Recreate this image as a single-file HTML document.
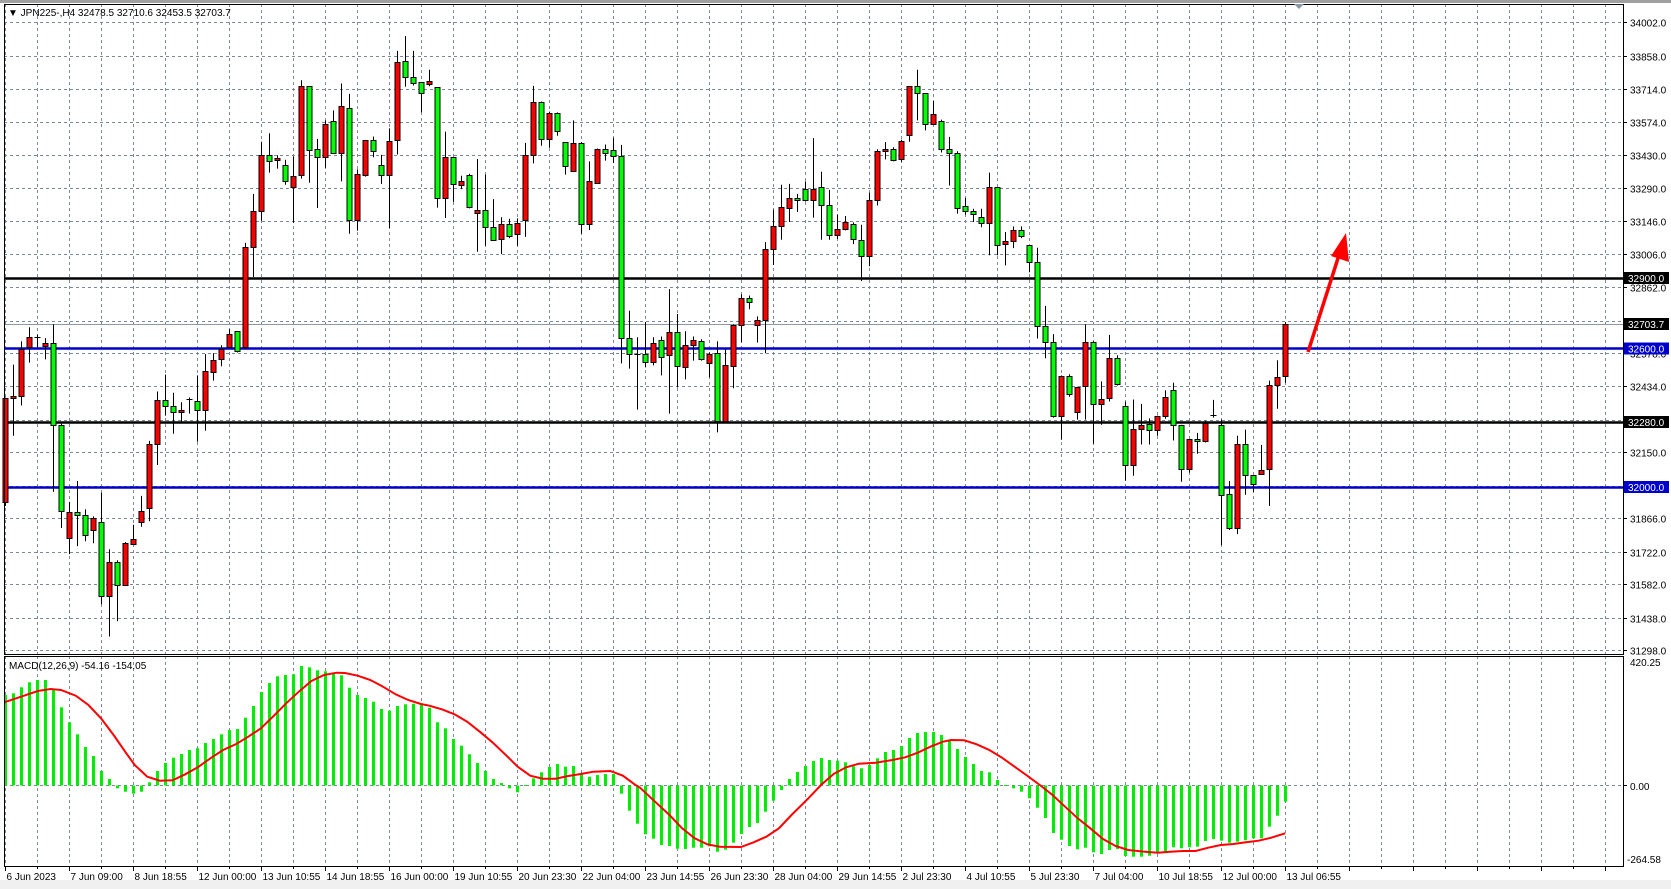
<!DOCTYPE html>
<html><head><meta charset="utf-8">
<style>
html,body{margin:0;padding:0;background:#fff;}
svg{display:block;font-family:"Liberation Sans",sans-serif;}
</style></head>
<body>
<svg id="s" width="1671" height="889" viewBox="0 0 1671 889" xmlns="http://www.w3.org/2000/svg"></svg>
<script>
var S=document.getElementById('s');var out=[];
function P(a){out.push(a);}
P('<rect x="0" y="0" width="1671" height="889" fill="#fff"/>');
P('<rect x="0" y="880" width="1671" height="9" fill="#f0f0f0"/>');
P('<line x1="0" y1="1.5" x2="1671" y2="1.5" stroke="#a0a0a0" stroke-width="3"/>');
var L=4,R=1623,T=4,MB=654,MT=656,B=866;
function py(p){return 22.4+(34002-p)*0.2322;}
for(var k=0;;k++){var x=5.5+32*k;if(x>=R)break;
P('<line x1="'+x+'" y1="'+T+'" x2="'+x+'" y2="'+MB+'" stroke="#7a8899" stroke-dasharray="3,3"/>');
P('<line x1="'+x+'" y1="'+MT+'" x2="'+x+'" y2="'+B+'" stroke="#7a8899" stroke-dasharray="3,3"/>');}
var prices=[34002,33858,33714,33574,33430,33290,33146,33006,32862,32718,32578,32434,32290,32150,32006,31866,31722,31582,31438,31298];
prices.forEach(function(p){var y=Math.round(py(p))+0.5;
P('<line x1="'+L+'" y1="'+y+'" x2="'+R+'" y2="'+y+'" stroke="#7a8899" stroke-dasharray="3,3"/>');
P('<line x1="'+R+'" y1="'+y+'" x2="'+(R+4)+'" y2="'+y+'" stroke="#000"/>');
P('<text x="1630" y="'+(y+4)+'" font-size="10" fill="#000">'+p.toFixed(1)+'</text>');});
P('<line x1="'+L+'" y1="785.5" x2="'+R+'" y2="785.5" stroke="#7a8899" stroke-dasharray="3,3"/>');
P('<line x1="'+L+'" y1="324.5" x2="'+R+'" y2="324.5" stroke="#8a98a8" stroke-width="1"/>');
[[278.5,'#000'],[348.5,'#0000cc'],[422.5,'#000'],[487.5,'#0000cc']].forEach(function(a){
P('<line x1="'+L+'" y1="'+a[0]+'" x2="'+R+'" y2="'+a[0]+'" stroke="'+a[1]+'" stroke-width="2.5"/>');});
var C=[
['r',940,1200,940,1210],['r',937,941,858,1035],['r',820,937,800,960],['r',790,815,765,853],['d',790,790,783,815],['r',805,812,792,845],['g',805,1008,758,1175],['g',1008,1222,1005,1265],['r',1226,1290,1200,1330],['g',1226,1232,1148,1310],
['g',1233,1282,1218,1298],['r',1240,1270,1236,1303],['g',1250,1433,1177,1455],['r',1350,1433,1318,1535],['g',1350,1407,1345,1497],['r',1302,1407,1300,1407],['r',1293,1305,1257,1307],['r',1222,1250,1185,1262],['r',1055,1216,1048,1248],['r',946,1056,925,1108],
['g',946,962,883,985],['g',962,977,928,1030],['r',971,977,952,1000],['d',944,944,940,980],['g',948,972,885,1050],['r',875,972,832,1023],['r',847,877,830,898],['r',818,845,810,862],['r',782,815,770,815],['g',775,825,775,828],
['r',566,813,555,820],['r',476,566,433,640],['r',337,476,303,500],['g',337,350,282,380],['r',344,349,337,370],['g',362,402,348,410],['r',389,417,340,505],['r',165,387,150,395],['g',165,323,165,405],['g',322,340,296,468],
['r',260,340,250,368],['g',252,330,225,333],['r',215,330,158,402],['g',218,497,184,532],['r',384,497,372,525],['r',300,387,300,390],['g',300,327,290,342],['g',362,385,336,408],['r',302,385,270,518],['r',105,300,77,335],
['g',103,143,40,166],['g',143,156,77,163],['g',155,181,155,230],['r',153,160,124,165],['g',168,444,168,467],['r',342,444,278,493],['g',342,409,342,453],['r',402,410,388,421],['g',386,466,383,469],['r',474,481,346,577],
['g',474,516,385,562],['g',516,548,446,548],['r',509,546,491,583],['g',509,539,495,543],['r',506,534,494,562],['r',337,497,306,540],['r',205,337,164,357],['g',205,297,203,313],['r',232,297,228,318],['g',232,277,230,288],
['g',305,364,305,385],['r',307,375,250,377],['g',307,509,304,532],['r',402,509,352,523],['r',320,405,320,407],['g',320,332,310,350],['g',324,339,293,356],['g',339,792,311,855],['g',792,832,724,868],['d',832,832,790,970],
['g',832,852,752,865],['r',805,852,790,860],['g',797,840,788,885],['r',778,835,670,980],['g',778,862,732,915],['r',810,865,775,895],['r',797,810,788,848],['g',800,845,795,848],['r',832,853,828,890],['g',830,998,800,1027],
['r',860,998,820,998],['r',760,862,758,917],['r',692,760,683,802],['g',692,702,686,720],['r',747,760,738,803],['r',570,747,553,830],['r',514,570,472,610],['r',466,514,410,547],['r',444,469,408,503],['g',444,449,433,478],
['g',422,447,402,452],['r',420,447,294,492],['g',417,461,378,547],['g',461,536,423,547],['r',521,536,485,545],['r',504,521,488,524],['g',509,546,504,558],['g',549,588,510,650],['r',447,588,430,613],['r',327,447,322,462],
['r',320,327,304,347],['g',320,349,317,352],['r',302,347,298,353],['r',165,287,165,303],['g',165,183,124,250],['g',183,258,183,275],['r',235,258,202,259],['g',252,320,248,330],['g',320,330,291,412],['g',330,467,327,482],
['g',463,476,443,485],['g',476,484,470,503],['g',491,506,470,516],['r',416,506,380,586],['g',416,561,416,586],['r',550,558,528,611],['r',523,551,514,568],['g',523,539,514,543],['g',561,603,561,628],['g',603,762,567,793],
['g',762,802,712,842],['g',802,985,782,990],['r',887,987,885,1045],['g',887,932,882,938],['r',913,975,913,995],['r',802,912,758,995],['g',802,957,800,1055],['r',943,957,900,1008],['r',842,942,784,950],['g',842,907,835,910],
['g',960,1107,950,1147],['r',1018,1107,945,1135],['r',1008,1018,956,1057],['g',1005,1022,992,1057],['r',985,1022,985,1035],['r',938,987,922,993],['g',922,1008,903,1047],['g',1008,1117,1008,1150],['r',1043,1117,1043,1127],['g',1043,1048,1028,1080],
['r',1003,1048,998,1052],['d',983,983,946,990],['g',1008,1183,995,1308],['g',1180,1265,1148,1270],['r',1055,1265,1035,1280],['g',1055,1133,1020,1182],['g',1133,1155,1133,1175],['r',1120,1130,1058,1130],['r',908,1118,898,1210],['r',888,908,847,968],
['r',757,887,752,903]];
function cy(v){return 20+v/2.49;}
C.forEach(function(c,i){var cx=5.5+8*i;
var t=Math.round(cy(c[1])),b=Math.round(cy(c[2])),h=cy(c[3]),l=cy(c[4]);
P('<line x1="'+cx+'" y1="'+h.toFixed(1)+'" x2="'+cx+'" y2="'+l.toFixed(1)+'" stroke="#000"/>');
if(c[0]=='d'){P('<line x1="'+(cx-3)+'" y1="'+(t+0.5)+'" x2="'+(cx+3)+'" y2="'+(t+0.5)+'" stroke="#000"/>');}
else{var f=c[0]=='r'?'#ff0000':'#00ff00';if(b-t<2)b=t+2;
P('<rect x="'+(cx-2)+'" y="'+(t+0.5)+'" width="5" height="'+(b-t)+'" fill="'+f+'" stroke="#000" stroke-width="1" transform="translate(-0.5,0)"/>');}
});
var H1=[120,115,97,82,75,75,105,157,202,238,276,303,348,372,400,410,416,410,382,348,324,308,297,285,280,264,252,238,225,222,188,153,111,84,64,60,58,33,37,46,49,56,61,98,120,129,140,162,167,153,148,146,148,158,202,220,252,272,298,324,348,372,384,400,412,390,370,352,336,327,335,333,355,365,360,357,357,416,467,506];
var H2=[538,551,570,573,581,582,578,578,574,590,584,563,537,516,504,470,437,405,372,351,333,318,309,315,317,322,334,340,330,310,291,285,273,249,234,231,231,240,254,282,306,327,348,352,375,390,400,410,430,458,489,534,554,573,583,578,592,597,585,582,603,605,605,602,595,590,577,580,577,575,558,552,557,563,560,556,550,550,515,482,440];
var H=H1.concat(H2);
H.forEach(function(v,i){var cx=5.5+8*i;var y=655+v/3;var z=785.5;
var t=Math.min(y,z),h=Math.abs(y-z);if(h<1)h=1;
P('<rect x="'+(cx-1.5)+'" y="'+t.toFixed(1)+'" width="3" height="'+h.toFixed(1)+'" fill="#00ee00"/>');});
var S1=[[10,142],[50,125],[90,108],[120,102],[145,105],[180,122],[210,150],[240,190],[270,240],[300,295],[320,330],[350,365],[380,377],[410,376],[440,358],[470,337],[500,310],[530,285],[560,268],[590,245],[620,220],[650,183],[680,145],[710,110],[740,78],[770,60],[800,53],[820,54],[850,62],[880,75],[910,95],[940,118],[970,135],[1000,147],[1020,152],[1050,163],[1080,178],[1110,200],[1140,230],[1170,262],[1200,298],[1230,335],[1260,362],[1290,371],[1320,371],[1350,363],[1380,357],[1410,350],[1450,348],[1480,362],[1510,390]];
var S2=[[0,398],[40,445],[70,480],[100,520],[130,550],[160,568],[190,575],[240,576],[270,562],[300,545],[330,520],[360,480],[400,430],[430,390],[460,357],[490,337],[520,326],[560,323],[600,315],[630,307],[660,293],[690,275],[720,260],[740,255],[770,256],[800,268],[830,285],[860,308],[890,335],[920,362],[950,390],[980,420],[1010,455],[1040,490],[1070,520],[1100,552],[1130,573],[1160,585],[1200,590],[1230,593],[1260,590],[1290,588],[1320,588],[1350,578],[1380,570],[1410,567],[1440,562],[1470,557],[1500,548],[1533,535]];
var pts=[];S1.forEach(function(p){pts.push((p[0]/2.376).toFixed(1)+','+(655+p[1]/3).toFixed(1));});
S2.forEach(function(p){pts.push((640+p[0]/2.376).toFixed(1)+','+(655+p[1]/3).toFixed(1));});
P('<polyline points="'+pts.join(' ')+'" fill="none" stroke="#ff0000" stroke-width="2"/>');
P('<rect x="'+(L+0.5)+'" y="'+(T+0.5)+'" width="'+(R-L)+'" height="'+(MB-T)+'" fill="none" stroke="#000"/>');
P('<rect x="'+(L+0.5)+'" y="'+(MT+0.5)+'" width="'+(R-L)+'" height="'+(B-MT)+'" fill="none" stroke="#000"/>');
[[278,'32900.0','#000'],[324,'32703.7','#000'],[348.5,'32600.0','#0000cc'],[422,'32280.0','#000'],[487,'32000.0','#0000cc']].forEach(function(a){
P('<rect x="1624" y="'+(a[0]-6)+'" width="45" height="12" fill="'+a[2]+'"/>');
P('<text x="1628" y="'+(a[0]+4)+'" font-size="10" fill="#fff">'+a[1]+'</text>');});
P('<text x="1630" y="666" font-size="10">420.25</text>');
P('<text x="1630" y="790" font-size="10">0.00</text>');
P('<text x="1627" y="863" font-size="10">-264.58</text>');
P('<line x1="'+R+'" y1="785.5" x2="'+(R+4)+'" y2="785.5" stroke="#000"/>');
P('<text x="9" y="669" font-size="10">MACD(12,26,9) -54.16 -154.05</text>');
P('<text x="8" y="16" font-size="10">&#9660; JPN225-,H4  32478.5 32710.6 32453.5 32703.7</text>');
P('<polygon points="1294,4 1304,4 1299,9" fill="#8a98a8"/>');
var D=['6 Jun 2023','7 Jun 09:00','8 Jun 18:55','12 Jun 00:00','13 Jun 10:55','14 Jun 18:55','16 Jun 00:00','19 Jun 10:55','20 Jun 23:30','22 Jun 04:00','23 Jun 14:55','26 Jun 23:30','28 Jun 04:00','29 Jun 14:55','2 Jul 23:30','4 Jul 10:55','5 Jul 23:30','7 Jul 04:00','10 Jul 18:55','12 Jul 00:00','13 Jul 06:55'];
for(var k=0;k<26;k++){var x=5.5+64*k;if(x>=R)break;
P('<line x1="'+x+'" y1="'+B+'" x2="'+x+'" y2="'+(B+5)+'" stroke="#000"/>');
if(D[k])P('<text x="'+(x+1)+'" y="880" font-size="10">'+D[k]+'</text>');}
for(var k=0;;k++){var x=5.5+32*k;if(x>=R)break;P('<line x1="'+x+'" y1="'+B+'" x2="'+x+'" y2="'+(B+3)+'" stroke="#000"/>');}
P('<line x1="1308" y1="352" x2="1340" y2="252" stroke="#ff0000" stroke-width="3.5"/>');
P('<polygon points="1346,233 1349,262 1331,256" fill="#ff0000"/>');
S.innerHTML=out.join('');
</script>
</body></html>
